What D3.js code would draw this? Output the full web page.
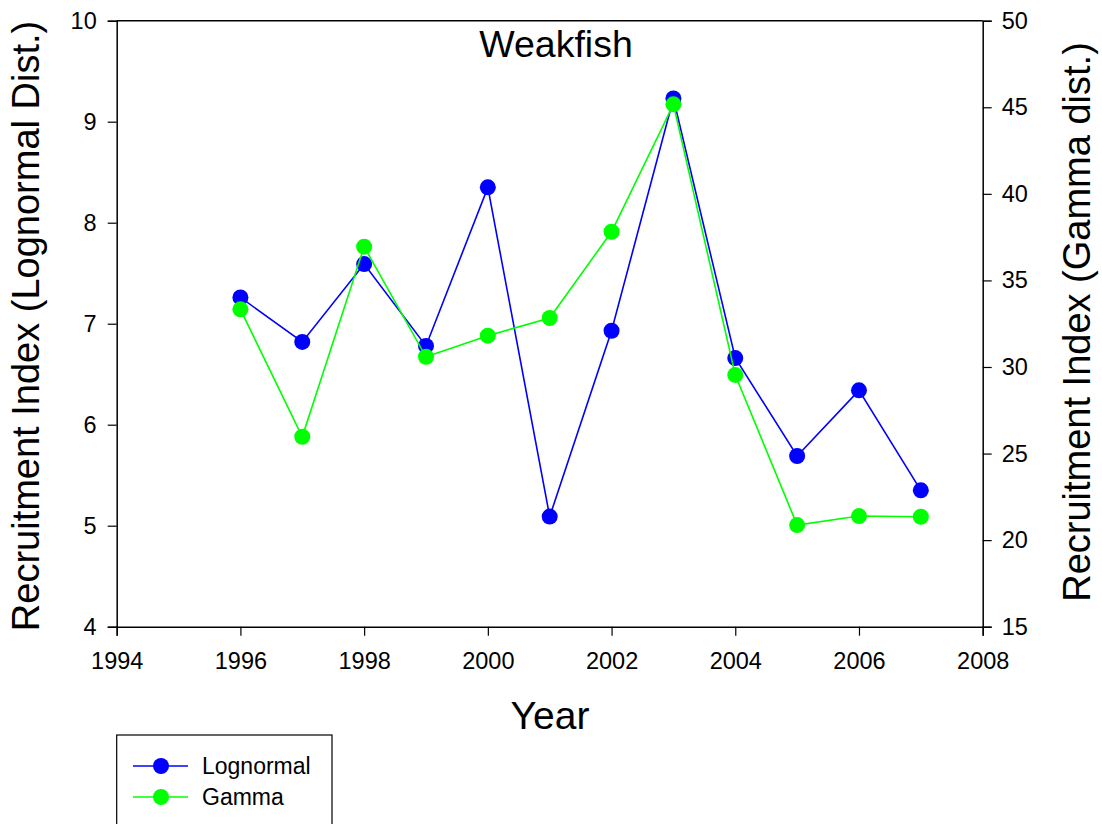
<!DOCTYPE html>
<html><head><meta charset="utf-8">
<script src="https://cdn.jsdelivr.net/npm/d3@7"></script>
<style>
body{margin:0;background:#fff;}
svg{display:block;font-family:Arial,"Liberation Sans",sans-serif;}
</style></head>
<body><svg id="c" width="1102" height="824"></svg>
<script>
const years = [1996,1997,1998,1999,2000,2001,2002,2003,2004,2005,2006,2007];
const lognormal = [7.26,6.82,7.59,6.78,8.35,5.09,6.93,9.23,6.66,5.69,6.34,5.35];
const gamma = [33.33,25.97,36.95,30.59,31.81,32.83,37.81,45.17,29.54,20.87,21.39,21.35];
const xTicks = [1994,1996,1998,2000,2002,2004,2006,2008];
const yLeftTicks = [4,5,6,7,8,9,10];
const yRightTicks = [15,20,25,30,35,40,45,50];
const seriesNames = ["Lognormal","Gamma"];
const seriesColors = ["#0000ff","#00ff00"];

const svg = d3.select("#c");
const L=116.7, R=982.7, T=20.7, B=626.7;
const x = d3.scaleLinear().domain([1994,2008]).range([L,R]);
const yL = d3.scaleLinear().domain([4,10]).range([B,T]);
const yR = d3.scaleLinear().domain([15,50]).range([B,T]);

svg.append("line").attr("x1",L).attr("x2",R).attr("y1",T).attr("y2",T).attr("stroke","#000").attr("stroke-width",1.5);

const gx = svg.append("g").attr("transform",`translate(0,${B})`)
  .call(d3.axisBottom(x).tickValues(xTicks).tickFormat(d3.format("d")).tickSizeOuter(0).tickSize(9).tickPadding(17));
const gl = svg.append("g").attr("transform",`translate(${L},0)`)
  .call(d3.axisLeft(yL).tickValues(yLeftTicks).tickFormat(d3.format("d")).tickSizeOuter(0).tickSize(9).tickPadding(11));
const gr = svg.append("g").attr("transform",`translate(${R},0)`)
  .call(d3.axisRight(yR).tickValues(yRightTicks).tickFormat(d3.format("d")).tickSizeOuter(0).tickSize(9).tickPadding(10));
[gx,gl,gr].forEach(g=>{
  g.selectAll("path").attr("stroke","#000").attr("stroke-width",1.5);
  g.selectAll("line").attr("stroke","#000").attr("stroke-width",1.2);
  g.selectAll("text").attr("font-size",23.5).attr("fill","#000").attr("font-family","Arial,'Liberation Sans',sans-serif");
});

function drawSeries(vals, yScale, color){
  const line = d3.line().x((d,i)=>x(years[i])).y(d=>yScale(d));
  svg.append("path").datum(vals).attr("d",line).attr("fill","none").attr("stroke",color).attr("stroke-width",1.6);
  svg.append("g").selectAll("circle").data(vals).join("circle")
    .attr("cx",(d,i)=>x(years[i])).attr("cy",d=>yScale(d)).attr("r",8).attr("fill",color);
}
drawSeries(lognormal, yL, seriesColors[0]);
drawSeries(gamma, yR, seriesColors[1]);

svg.append("text").attr("x",556).attr("y",57).attr("text-anchor","middle").attr("font-size",37.5).text("Weakfish");
svg.append("text").attr("x",550).attr("y",729).attr("text-anchor","middle").attr("font-size",39).text("Year");
svg.append("text").attr("transform",`translate(39,326) rotate(-90)`).attr("text-anchor","middle").attr("font-size",38).text("Recruitment Index (Lognormal Dist.)");
svg.append("text").attr("transform",`translate(1090,322) rotate(-90)`).attr("text-anchor","middle").attr("font-size",38).text("Recruitment Index (Gamma dist.)");

svg.append("rect").attr("x",116.7).attr("y",735).attr("width",215.3).attr("height",100).attr("fill","none").attr("stroke","#000").attr("stroke-width",1.2);
seriesNames.forEach((n,i)=>{
  const yy = 766 + i*31;
  svg.append("line").attr("x1",133).attr("x2",188).attr("y1",yy).attr("y2",yy).attr("stroke",seriesColors[i]).attr("stroke-width",1.6);
  svg.append("circle").attr("cx",161).attr("cy",yy).attr("r",8).attr("fill",seriesColors[i]);
  svg.append("text").attr("x",202).attr("y",yy).attr("dy","0.35em").attr("font-size",23).text(n);
});
</script></body></html>
